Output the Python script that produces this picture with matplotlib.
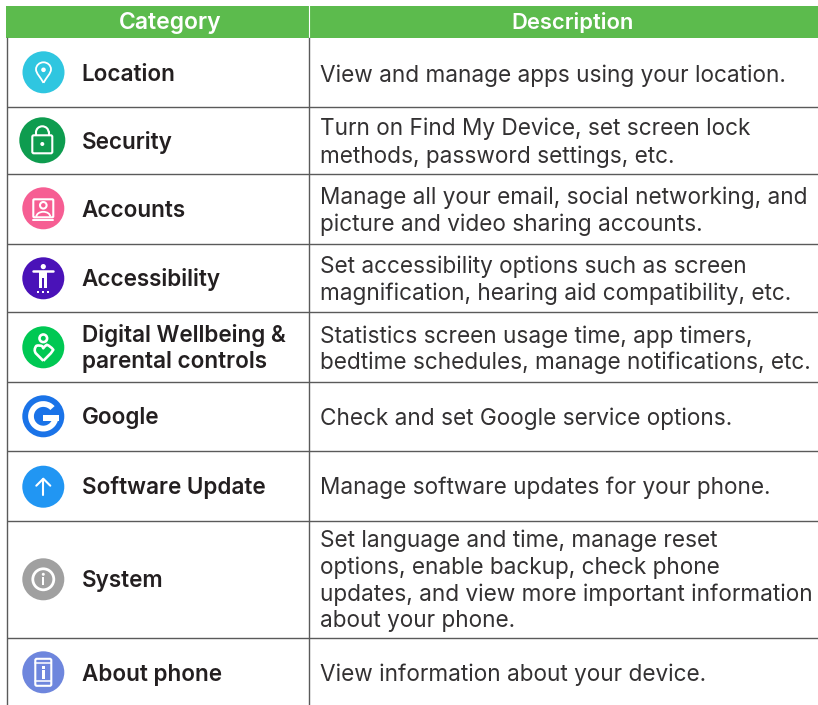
import matplotlib
matplotlib.use("Agg")
import matplotlib.pyplot as plt
from matplotlib.patches import Circle, Rectangle, FancyBboxPatch, Wedge, Arc, PathPatch
from matplotlib.path import Path

W, H = 818, 705
headers = ["Category", "Description"]
categories = ["Location", "Security", "Accounts", "Accessibility",
              "Digital Wellbeing &\nparental controls", "Google",
              "Software Update", "System", "About phone"]
descriptions = [
    ["View and manage apps using your location."],
    ["Turn on Find My Device, set screen lock", "methods, password settings, etc."],
    ["Manage all your email, social networking, and", "picture and video sharing accounts."],
    ["Set accessibility options such as screen", "magnification, hearing aid compatibility, etc."],
    ["Statistics screen usage time, app timers,", "bedtime schedules, manage notifications, etc."],
    ["Check and set Google service options."],
    ["Manage software updates for your phone."],
    ["Set language and time, manage reset", "options, enable backup, check phone",
     "updates, and view more important information", "about your phone."],
    ["View information about your device."],
]
icon_colors = ["#2FC6E0", "#0E9C4F", "#F65E93", "#4A12B8", "#00C853", "#1A73E8", "#2196F3", "#A0A0A0", "#6E86DD"]

# layout, in reference pixels
row_edges = [38, 107, 174, 243.5, 312, 382, 451, 520.5, 638, 705]
icon_r = [21, 23, 21, 21, 21, 21, 21, 21, 21]
icon_x = [43.5, 42.3, 43.3, 43.3, 43.3, 43.3, 43.3, 43.3, 43.3]
icon_y = [72.3, 140.3, 208.3, 278.3, 347.3, 416.3, 486.7, 579.3, 672.3]
cat_base = [[81], [148.5], [216.7], [285.7], [341.7, 368.3], [424.3], [494], [586.7], [680.7]]
desc_base = [[82], [135, 162.5], [204, 231], [273.5, 300], [342.5, 369], [425], [494],
             [547.5, 574, 601, 627.5], [681]]

plt.rcParams['font.family'] = ['Inter', 'DejaVu Sans']
fig = plt.figure(figsize=(W / 100, H / 100), dpi=100)
ax = fig.add_axes([0, 0, 1, 1])
ax.set_xlim(0, W)
ax.set_ylim(H, 0)
ax.axis("off")

green = "#5CBB4D"
ax.add_patch(Rectangle((6, 6), W - 6, 32, fc=green, ec="none"))
ax.plot([308.5, 308.5], [6, 38], color="white", lw=0.8)
ax.text(170, 29, headers[0], color="white", fontsize=16.5, fontweight="semibold", ha="center", va="baseline")
ax.text(572.5, 29, headers[1], color="white", fontsize=15.8, fontweight="semibold", ha="center", va="baseline")

line = "#5A5A5A"
for y in row_edges[1:-1]:
    ax.plot([6.5, W], [y, y], color=line, lw=1.0, solid_capstyle="butt")
ax.plot([6.5, 6.5], [38, H], color=line, lw=1.0)
ax.plot([308.5, 308.5], [38, H], color=line, lw=1.0)


def w_line(xs, ys, lw=1.5, **kw):
    ax.plot(xs, ys, color="white", lw=lw, solid_capstyle="round", **kw)


def ring(cx, cy, r, lw=1.5):
    ax.add_patch(Circle((cx, cy), r, fc="none", ec="white", lw=lw))


def box(x, y, w, h, pad=1.5, lw=1.5, fc="none"):
    ax.add_patch(FancyBboxPatch((x + pad, y + pad), w - 2 * pad, h - 2 * pad,
                                boxstyle=f"round,pad={pad}", fc=fc, ec="white", lw=lw))


for i, c in enumerate(icon_colors):
    ax.add_patch(Circle((icon_x[i], icon_y[i]), icon_r[i], fc=c, ec="none"))

# location pin
cx, cy = icon_x[0], icon_y[0]
ax.add_patch(PathPatch(Path([(cx, cy + 10.5), (cx - 3, cy + 5), (cx - 7.5, cy + 1), (cx - 7.5, cy - 3),
                             (cx - 7.5, cy - 7), (cx - 4, cy - 10), (cx, cy - 10),
                             (cx + 4, cy - 10), (cx + 7.5, cy - 7), (cx + 7.5, cy - 3),
                             (cx + 7.5, cy + 1), (cx + 3, cy + 5), (cx, cy + 10.5)],
                            [Path.MOVETO] + [Path.CURVE4] * 12),
                       fc="none", ec="white", lw=1.3, joinstyle="round"))
ax.add_patch(Circle((cx, cy - 2.5), 2.3, fc="white", ec="none"))

# lock
cx, cy = icon_x[1], icon_y[1]
box(cx - 10, cy - 5, 20, 18, pad=1.5)
ax.add_patch(Arc((cx, cy - 8), 12.6, 12, theta1=180, theta2=360, ec="white", lw=1.5))
w_line([cx - 6.3, cx - 6.3], [cy - 8, cy - 5])
w_line([cx + 6.3, cx + 6.3], [cy - 8, cy - 5])
ax.add_patch(Circle((cx, cy + 3.7), 2, fc="white", ec="none"))

# accounts
cx, cy = icon_x[2], icon_y[2]
box(cx - 10, cy - 9, 20, 18, pad=1)
ring(cx, cy - 3, 3.3)
ax.add_patch(Arc((cx, cy + 8.5), 14, 10, theta1=180, theta2=360, ec="white", lw=1.3))
w_line([cx - 10, cx + 10], [cy + 12, cy + 12], lw=1.4)

# accessibility
cx, cy = icon_x[3], icon_y[3]
ax.add_patch(Circle((cx, cy - 11.7), 2.6, fc="white", ec="none"))
w_line([cx - 10, cx + 10], [cy - 7.3, cy - 7.3], lw=1.8)
ax.add_patch(Rectangle((cx - 4, cy - 7.5), 8, 7.5, fc="white", ec="none"))
ax.add_patch(Rectangle((cx - 4, cy - 0.5), 3, 10, fc="white", ec="none"))
ax.add_patch(Rectangle((cx + 1, cy - 0.5), 3, 10, fc="white", ec="none"))
for dx in (-5, 0, 5):
    ax.add_patch(Rectangle((cx + dx - 1, cy + 12.4), 2, 2, fc="white", ec="none"))

# wellbeing
cx, cy = icon_x[4], icon_y[4]
ring(cx, cy - 9, 3.8, lw=1.9)
ax.add_patch(PathPatch(Path([(cx, cy + 13.5), (cx - 7.5, cy + 6), (cx - 10, cy + 2.5), (cx - 7, cy - 1.5),
                             (cx - 3.5, cy - 2.5), (cx - 1, cy - 1), (cx, cy + 1),
                             (cx + 1, cy - 1), (cx + 3.5, cy - 2.5), (cx + 7, cy - 1.5),
                             (cx + 10, cy + 2.5), (cx + 7.5, cy + 6), (cx, cy + 13.5)],
                            [Path.MOVETO, Path.LINETO, Path.CURVE3, Path.CURVE3, Path.CURVE3, Path.CURVE3, Path.LINETO,
                             Path.CURVE3, Path.CURVE3, Path.CURVE3, Path.CURVE3, Path.LINETO, Path.LINETO]),
                       fc="none", ec="white", lw=1.9, joinstyle="round"))

# Google G
cx, cy = icon_x[5], icon_y[5]
ax.add_patch(Wedge((cx, cy), 15.2, 0, 318, width=5.8, fc="white", ec="none"))
ax.add_patch(Rectangle((cx - 0.5, cy - 1.3), 15.7, 6, fc="white", ec="none"))

# arrow up
cx, cy = icon_x[6], icon_y[6]
w_line([cx, cx], [cy - 8, cy + 8])
w_line([cx - 7, cx, cx + 7], [cy - 1, cy - 8, cy - 1])

# info
cx, cy = icon_x[7], icon_y[7]
ring(cx, cy, 10.5, lw=2.0)
ax.add_patch(Circle((cx, cy - 5), 1.5, fc="white", ec="none"))
ax.add_patch(Rectangle((cx - 1.2, cy - 2), 2.4, 8, fc="white", ec="none"))

# phone
cx, cy = icon_x[8], icon_y[8]
box(cx - 8, cy - 13.5, 16, 27, pad=1.5)
w_line([cx - 8, cx + 8], [cy - 9, cy - 9], lw=1.1)
w_line([cx - 8, cx + 8], [cy + 9, cy + 9], lw=1.1)
ax.add_patch(Rectangle((cx - 1.6, cy - 6.3), 3.2, 2.6, fc="white", ec="none"))
ax.add_patch(Rectangle((cx - 1.6, cy - 2.3), 3.2, 8.6, fc="white", ec="none"))

ink = "#231F20"
for name, ys in zip(categories, cat_base):
    for part, y in zip(name.split("\n"), ys):
        ax.text(81.5, y, part, color=ink, fontsize=16.2, fontweight="semibold", ha="left", va="baseline")

for lines, ys in zip(descriptions, desc_base):
    for t, y in zip(lines, ys):
        ax.text(320, y, t, color="#333132", fontsize=16.25, ha="left", va="baseline")

fig.savefig("out.png", dpi=100)
